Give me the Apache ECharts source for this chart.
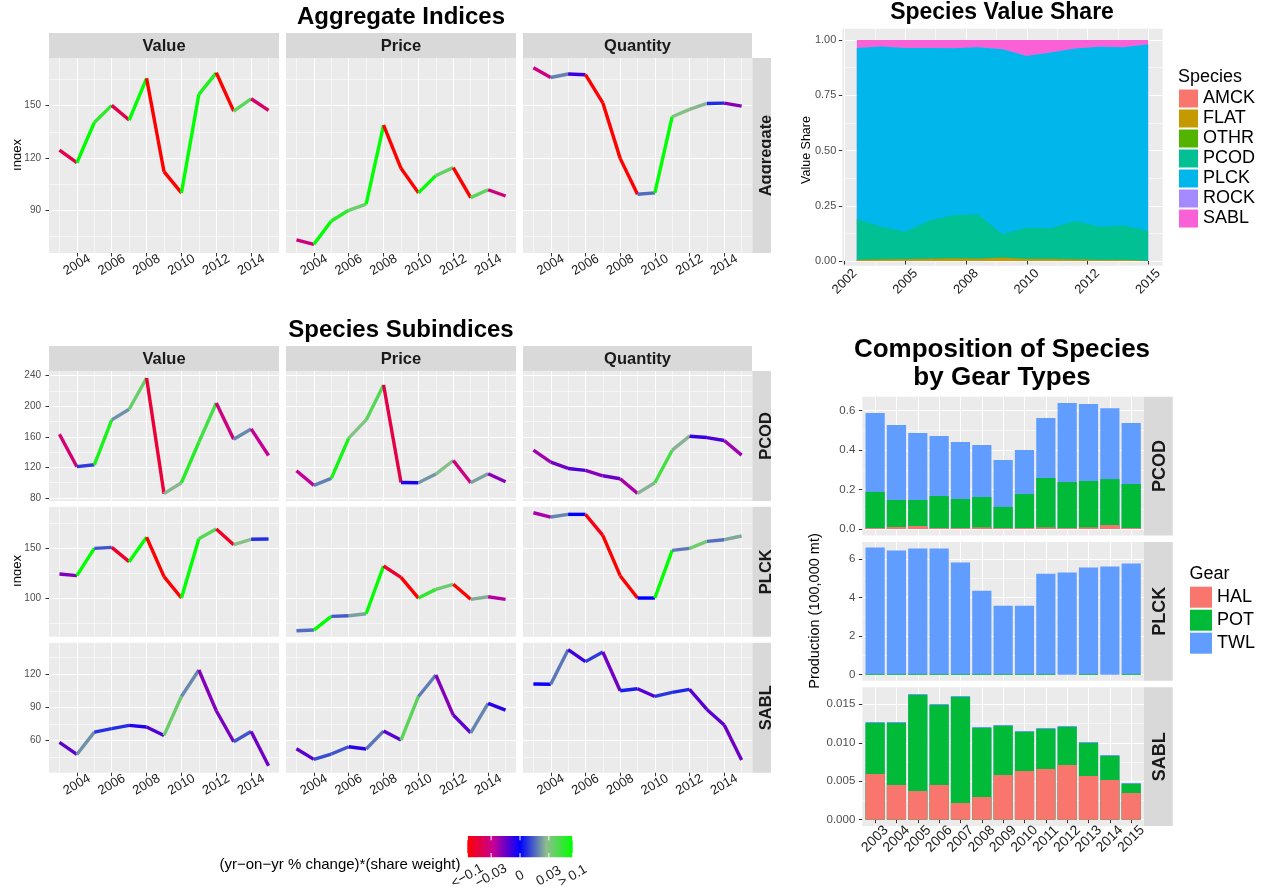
<!DOCTYPE html>
<html>
<head>
<meta charset="utf-8">
<script src="https://cdn.jsdelivr.net/npm/echarts@6/dist/echarts.min.js"></script>
<style>
  html, body { margin: 0; padding: 0; background: #fff; }
  #main { width: 1266px; height: 890px; }
</style>
</head>
<body>
<div id="main"></div>
<script>
  const FONT = '"Liberation Sans", Arial, Helvetica, sans-serif'

  const years = [2003, 2004, 2005, 2006, 2007, 2008, 2009, 2010, 2011, 2012, 2013, 2014, 2015]

  // aggregate indices
  const aggValue = [124.6, 117.3, 140.4, 150.2, 141.8, 165.7, 112.2, 100.0, 156.5, 168.9, 146.9, 154.0, 147.3]
  const aggPrice = [73.0, 70.5, 83.9, 90.0, 93.6, 138.9, 114.1, 100.0, 109.9, 114.5, 97.3, 101.8, 98.2]
  const aggQuantity = [171.8, 166.2, 168.2, 167.8, 151.7, 119.8, 99.2, 100.0, 143.7, 147.9, 151.3, 151.5, 149.8]

  // species subindices
  const pcodValue = [163.5, 121.0, 123.5, 182.2, 196.1, 237.0, 85.7, 100.0, 153.0, 204.3, 157.0, 170.4, 135.7]
  const pcodPrice = [115.7, 96.5, 105.7, 158.3, 182.2, 227.8, 100.4, 100.0, 111.3, 129.1, 100.0, 111.7, 101.3]
  const pcodQuantity = [142.6, 127.0, 118.7, 116.1, 109.1, 105.2, 86.1, 100.0, 142.6, 160.9, 159.1, 155.2, 136.1]
  const plckValue = [124.2, 122.5, 150.0, 151.0, 136.6, 161.1, 121.5, 100.0, 159.7, 169.5, 153.7, 159.1, 159.4]
  const plckPrice = [67.1, 67.8, 81.6, 82.2, 84.2, 132.2, 120.8, 100.0, 108.7, 113.8, 98.7, 101.3, 98.7]
  const plckQuantity = [185.8, 181.5, 184.2, 184.2, 163.1, 122.5, 100.0, 100.0, 148.0, 150.0, 157.0, 158.7, 162.4]
  const sablValue = [58.5, 47.6, 67.8, 70.9, 73.9, 72.4, 64.8, 100.0, 123.9, 87.1, 59.1, 68.4, 37.4]
  const sablPrice = [52.8, 43.1, 48.0, 54.6, 52.5, 68.7, 60.6, 100.0, 119.4, 83.2, 67.2, 93.8, 87.7]
  const sablQuantity = [111.3, 111.0, 142.3, 131.5, 140.2, 105.2, 107.0, 100.0, 103.7, 106.4, 88.3, 74.2, 42.5]

  // species value share
  const shareAMCK = [0.001, 0.001, 0.001, 0.001, 0.001, 0.001, 0.001, 0.001, 0.001, 0.001, 0.001, 0.001, 0.001]
  const shareFLAT = [0.004, 0.006, 0.007, 0.009, 0.011, 0.009, 0.014, 0.008, 0.008, 0.006, 0.004, 0.004, 0.003]
  const shareOTHR = [0.001, 0.001, 0.001, 0.001, 0.001, 0.001, 0.001, 0.001, 0.001, 0.001, 0.001, 0.001, 0.001]
  const sharePCOD = [0.184, 0.147, 0.124, 0.172, 0.195, 0.200, 0.105, 0.141, 0.139, 0.173, 0.149, 0.155, 0.131]
  const sharePLCK = [0.774, 0.815, 0.831, 0.781, 0.755, 0.756, 0.837, 0.777, 0.794, 0.780, 0.814, 0.806, 0.845]
  const shareROCK = [0.001, 0.001, 0.001, 0.001, 0.001, 0.001, 0.001, 0.001, 0.001, 0.001, 0.001, 0.001, 0.001]
  const shareSABL = [0.035, 0.029, 0.035, 0.035, 0.036, 0.032, 0.041, 0.071, 0.056, 0.038, 0.030, 0.032, 0.018]

  // production by gear (100,000 mt)
  const pcodHAL = [0.005, 0.010, 0.015, 0.005, 0.005, 0.008, 0.005, 0.005, 0.008, 0.005, 0.008, 0.020, 0.005]
  const pcodPOT = [0.183, 0.137, 0.132, 0.162, 0.147, 0.154, 0.107, 0.172, 0.251, 0.233, 0.235, 0.233, 0.223]
  const pcodTWL = [0.400, 0.380, 0.340, 0.305, 0.289, 0.264, 0.238, 0.224, 0.304, 0.401, 0.391, 0.360, 0.309]
  const plckHAL = [0, 0, 0, 0, 0, 0, 0, 0, 0, 0, 0, 0, 0]
  const plckPOT = [0.04, 0.04, 0.04, 0.04, 0.04, 0.04, 0.04, 0.04, 0.04, 0, 0.04, 0, 0.04]
  const plckTWL = [6.56, 6.40, 6.51, 6.51, 5.78, 4.32, 3.54, 3.54, 5.20, 5.30, 5.52, 5.61, 5.73]
  const sablHAL = [0.00594, 0.00451, 0.00373, 0.00451, 0.00217, 0.00295, 0.00581, 0.00633, 0.00659, 0.00711, 0.00568, 0.00516, 0.00347]
  const sablPOT = [0.00663, 0.00806, 0.01248, 0.01040, 0.01378, 0.00897, 0.00637, 0.00507, 0.00520, 0.00494, 0.00429, 0.00312, 0.00117]
  const sablTWL = [0.00013, 0.00013, 0.00013, 0.00013, 0.00013, 0.00013, 0.00013, 0.00013, 0.00013, 0.00013, 0.00013, 0.00013, 0.00013]

  // tick values / labels
  const lineXMajor = [2004, 2006, 2008, 2010, 2012, 2014]
  const lineXMinor = [2003, 2005, 2007, 2009, 2011, 2013, 2015]
  const rowMajor = [[90, 120, 150], [80, 120, 160, 200, 240], [100, 150], [60, 90, 120]]
  const rowMinor = [[75, 105, 135, 165], [100, 140, 180, 220], [75, 125, 175], [45, 75, 105, 135]]
  const shareXBreaks = [2002.5, 2005, 2007.5, 2010, 2012.5, 2015]
  const shareXLabels = ['2002', '2005', '2008', '2010', '2012', '2015']
  const shareXMinor = [2003.75, 2006.25, 2008.75, 2011.25, 2013.75]
  const shareYMajor = [0, 0.25, 0.5, 0.75, 1]
  const shareYMinor = [0.125, 0.375, 0.625, 0.875]
  const barYMajor = [[0, 0.2, 0.4, 0.6], [0, 2, 4, 6], [0, 0.005, 0.010, 0.015]]
  const barYMinor = [[0.1, 0.3, 0.5], [1, 3, 5], [0.0025, 0.0075, 0.0125]]
  const chgBreaks = [-0.1, -0.03, 0, 0.03, 0.1]
  const chgLabels = ['<\u22120.1', '\u22120.03', '0', '0.03', '> 0.1']

  const speciesNames = ['AMCK', 'FLAT', 'OTHR', 'PCOD', 'PLCK', 'ROCK', 'SABL']
  const speciesColors = ['#F8766D', '#C49A00', '#53B400', '#00C094', '#00B6EB', '#A58AFF', '#FB61D7']
  const gearNames = ['HAL', 'POT', 'TWL']
  const gearColors = ['#F8766D', '#00BA38', '#619CFF']

  // layout
  const colLeft = [49, 286, 523]
  const colWidth = [230, 230, 229]
  const rowTop = [58, 371, 506.7, 642.7]
  const rowHeight = [195, 130, 130, 130]
  const rowRange = [[65.5, 177.4], [76.1, 246.2], [61.1, 191.9], [31.1, 148.6]]
  const rowNames = ['Aggregate', 'PCOD', 'PLCK', 'SABL']
  const colNames = ['Value', 'Price', 'Quantity']
  const xRange = [2002.4, 2015.6]
  const barLeft = 862.3
  const barWidthPx = 281.7
  const barTop = [396.7, 542, 687.3]
  const barHeight = 138.7
  const barRange = [[-0.0325, 0.671], [-0.311, 6.882], [-0.00082, 0.01721]]

  const lineData = [
    [aggValue, aggPrice, aggQuantity],
    [pcodValue, pcodPrice, pcodQuantity],
    [plckValue, plckPrice, plckQuantity],
    [sablValue, sablPrice, sablQuantity]
  ]
  const rowWeights = [null, sharePCOD, sharePLCK, shareSABL]
  const shareData = [shareAMCK, shareFLAT, shareOTHR, sharePCOD, sharePLCK, shareROCK, shareSABL]
  const gearData = [[pcodHAL, pcodPOT, pcodTWL], [plckHAL, plckPOT, plckTWL], [sablHAL, sablPOT, sablTWL]]

  // colour scale: sqrt-transformed, clamped to +-0.1
  const chgStops = [[0, [255, 0, 0]], [0.25, [196, 0, 152]], [0.5, [0, 0, 255]], [0.75, [143, 188, 143]], [1, [0, 255, 0]]]
  function chgPos (v) {
    const c = Math.max(-0.1, Math.min(0.1, v))
    return (Math.sign(c) * Math.sqrt(Math.abs(c) / 0.1) + 1) / 2
  }
  function chgColor (v) {
    const p = chgPos(v)
    for (let i = 1; i < chgStops.length; i++) {
      if (p <= chgStops[i][0]) {
        const a = chgStops[i - 1]
        const b = chgStops[i]
        const t = (p - a[0]) / (b[0] - a[0])
        const c = a[1].map((x, k) => Math.round(x + (b[1][k] - x) * t))
        return 'rgb(' + c.join(',') + ')'
      }
    }
    return 'rgb(0,255,0)'
  }

  function segments (vals, w) {
    const out = []
    for (let i = 0; i < vals.length - 1; i++) {
      const chg = (vals[i + 1] / vals[i] - 1) * (w ? w[i + 1] : 1)
      out.push([years[i], vals[i], years[i + 1], vals[i + 1], chg])
    }
    return out
  }

  // running totals, bottom layer first
  function cumulate (layers) {
    const out = []
    layers.forEach(function (arr, i) {
      out.push(arr.map(function (v, k) { return v + (i ? out[i - 1][k] : 0) }))
    })
    return out
  }

  function renderSegment (params, api) {
    const a = api.coord([api.value(0), api.value(1)])
    const b = api.coord([api.value(2), api.value(3)])
    return {
      type: 'line',
      shape: { x1: a[0], y1: a[1], x2: b[0], y2: b[1] },
      style: { stroke: chgColor(api.value(4)), lineWidth: 3.4, lineCap: 'butt' }
    }
  }

  const grids = []
  const xAxes = []
  const yAxes = []
  const series = []
  const graphics = []

  // one panel = grid + major/minor x axes + major/minor y axes
  function addPanel (box, o) {
    const g = grids.length
    grids.push({ left: box[0], top: box[1], width: box[2], height: box[3], show: true, backgroundColor: '#EBEBEB', borderWidth: 0 })
    xAxes.push({
      type: 'value', gridIndex: g, min: o.xr[0], max: o.xr[1],
      axisLine: { show: false },
      axisTick: { show: o.xLab, customValues: o.xMajor, length: 3.5, lineStyle: { color: '#333', width: 1 } },
      axisLabel: {
        show: o.xLab, customValues: o.xMajor, rotate: o.xRot, align: 'center', verticalAlign: 'middle',
        margin: o.xMargin, fontSize: o.xSize, color: '#1A1A1A', fontFamily: FONT,
        formatter: o.xFmt || function (v) { return String(v) }
      },
      splitLine: { show: true, lineStyle: { color: '#fff', width: 1.1 } }
    })
    xAxes.push({
      type: 'value', gridIndex: g, min: o.xr[0], max: o.xr[1],
      axisLine: { show: false },
      axisTick: { show: false, customValues: o.xMinor.length ? o.xMinor : [o.xr[0]] },
      axisLabel: { show: false },
      splitLine: { show: o.xMinor.length > 0, lineStyle: { color: '#fff', width: 0.55 } }
    })
    yAxes.push({
      type: 'value', gridIndex: g, min: o.yr[0], max: o.yr[1],
      axisLine: { show: false },
      axisTick: { show: o.yLab, customValues: o.yMajor, length: 3.5, lineStyle: { color: '#333', width: 1 } },
      axisLabel: {
        show: o.yLab, customValues: o.yMajor, margin: o.yMargin, fontSize: o.ySize,
        color: '#4D4D4D', fontFamily: FONT, formatter: o.yFmt || function (v) { return String(v) }
      },
      splitLine: { show: true, lineStyle: { color: '#fff', width: 1.1 } }
    })
    yAxes.push({
      type: 'value', gridIndex: g, min: o.yr[0], max: o.yr[1], position: 'left',
      axisLine: { show: false },
      axisTick: { show: false, customValues: o.yMinor },
      axisLabel: { show: false },
      splitLine: { show: true, lineStyle: { color: '#fff', width: 0.55 } }
    })
    return { x: 2 * g, y: 2 * g }
  }

  function addText (text, x, y, font, fill, align, rotation) {
    graphics.push({
      type: 'text', x: x, y: y, silent: true, z: 100, rotation: rotation || 0,
      style: { text: text, font: font, fill: fill || '#000', align: align || 'center', verticalAlign: 'middle' }
    })
  }
  function addRect (x, y, w, h, fill, z) {
    graphics.push({ type: 'rect', silent: true, z: z || 90, shape: { x: x, y: y, width: w, height: h }, style: { fill: fill } })
  }

  // index panels
  for (let r = 0; r < 4; r++) {
    for (let c = 0; c < 3; c++) {
      const showX = r === 0 || r === 3
      const ax = addPanel([colLeft[c], rowTop[r], colWidth[c], rowHeight[r]], {
        xr: xRange, xMajor: lineXMajor, xMinor: lineXMinor, xLab: showX, xRot: 30, xMargin: 12, xSize: 13,
        yr: rowRange[r], yMajor: rowMajor[r], yMinor: rowMinor[r], yLab: c === 0, yMargin: 8, ySize: 10
      })
      series.push({
        type: 'custom', name: rowNames[r] + ' ' + colNames[c],
        xAxisIndex: ax.x, yAxisIndex: ax.y,
        renderItem: renderSegment,
        encode: { x: [0, 2], y: [1, 3] },
        data: segments(lineData[r][c], rowWeights[r])
      })
    }
    // right strip, clipped like the original
    addRect(752.3, rowTop[r], 18.7, rowHeight[r], '#D9D9D9')
    addText(rowNames[r], 766, rowTop[r] + rowHeight[r] / 2, 'bold 16.5px ' + FONT, '#1A1A1A', 'center', Math.PI / 2)
    addRect(771, rowTop[r], 14, rowHeight[r], '#fff', 120)
  }
  // top strips
  ;[33, 346].forEach(function (sy) {
    for (let c = 0; c < 3; c++) {
      addRect(colLeft[c], sy, colWidth[c], 25, '#D9D9D9')
      addText(colNames[c], colLeft[c] + colWidth[c] / 2, sy + 13, 'bold 16.5px ' + FONT, '#1A1A1A')
    }
  })

  // value share panel (layers drawn as running totals, top layer first)
  const shAx = addPanel([842.3, 28.7, 320.4, 237], {
    xr: xRange, xMajor: shareXBreaks, xMinor: shareXMinor, xLab: true, xRot: 45, xMargin: 16, xSize: 13,
    xFmt: function (v) { return shareXLabels[shareXBreaks.indexOf(v)] },
    yr: [-0.021, 1.051], yMajor: shareYMajor, yMinor: shareYMinor, yLab: true, yMargin: 6, ySize: 11,
    yFmt: function (v) { return v.toFixed(2) }
  })
  const shareCum = cumulate(shareData)
  for (let i = speciesNames.length - 1; i >= 0; i--) {
    series.push({
      type: 'line', name: speciesNames[i], xAxisIndex: shAx.x, yAxisIndex: shAx.y,
      symbol: 'none', smooth: false, color: speciesColors[i],
      lineStyle: { width: 0 }, areaStyle: { color: speciesColors[i], opacity: 1 },
      itemStyle: { color: speciesColors[i] },
      data: years.map(function (y, k) { return [y, shareCum[i][k]] })
    })
  }

  // gear composition panels
  const barNames = ['PCOD', 'PLCK', 'SABL']
  const barFmt = [function (v) { return v.toFixed(1) }, function (v) { return v.toFixed(0) }, function (v) { return v.toFixed(3) }]
  for (let b = 0; b < 3; b++) {
    const ax = addPanel([barLeft, barTop[b], barWidthPx, barHeight], {
      xr: xRange, xMajor: years, xMinor: [], xLab: b === 2, xRot: 45, xMargin: 13, xSize: 14,
      yr: barRange[b], yMajor: barYMajor[b], yMinor: barYMinor[b], yLab: true, yMargin: 7, ySize: 11.5,
      yFmt: barFmt[b]
    })
    const cum = cumulate(gearData[b])
    for (let i = gearNames.length - 1; i >= 0; i--) {
      series.push({
        type: 'bar', name: gearNames[i], xAxisIndex: ax.x, yAxisIndex: ax.y,
        barWidth: 19.2, barGap: '-100%', color: gearColors[i], itemStyle: { color: gearColors[i] },
        data: years.map(function (y, k) { return [y, cum[i][k]] })
      })
    }
    addRect(1144, barTop[b], 28.7, barHeight, '#D9D9D9')
    addText(barNames[b], 1160, barTop[b] + barHeight / 2, 'bold 18px ' + FONT, '#1A1A1A', 'center', Math.PI / 2)
  }

  // titles
  addText('Aggregate Indices', 401, 17, 'bold 24px ' + FONT)
  addText('Species Subindices', 401, 330, 'bold 24px ' + FONT)
  addText('Species Value Share', 1002, 13, 'bold 23px ' + FONT)
  addText('Composition of Species', 1002, 350, 'bold 26px ' + FONT)
  addText('by Gear Types', 1002, 378, 'bold 26px ' + FONT)

  // axis titles
  ;[155, 571].forEach(function (cy) {
    addText('Index', 17.5, cy, '13px ' + FONT, '#000', 'center', Math.PI / 2)
    addRect(0, cy - 25, 14, 50, '#fff', 120)
  })
  addText('Value Share', 806.5, 150, '12.5px ' + FONT, '#000', 'center', Math.PI / 2)
  addText('Production (100,000 mt)', 814.5, 611, '14.5px ' + FONT, '#000', 'center', Math.PI / 2)

  // legend titles
  addText('Species', 1178, 77, '18px ' + FONT, '#000', 'left')
  addText('Gear', 1189.5, 574, '18px ' + FONT, '#000', 'left')

  // colour bar legend
  const cbX = 467.3
  const cbY = 836
  const cbW = 105.4
  const cbH = 21.3
  graphics.push({
    type: 'rect', silent: true, z: 90,
    shape: { x: cbX, y: cbY, width: cbW, height: cbH },
    style: {
      fill: new echarts.graphic.LinearGradient(0, 0, 1, 0, chgStops.map(function (s) {
        return { offset: s[0], color: 'rgb(' + s[1].join(',') + ')' }
      }))
    }
  })
  chgBreaks.forEach(function (v, i) {
    const bx = cbX + chgPos(v) * cbW
    graphics.push({ type: 'line', silent: true, z: 95, shape: { x1: bx, y1: cbY, x2: bx, y2: cbY + 4.3 }, style: { stroke: '#fff', lineWidth: 1 } })
    graphics.push({ type: 'line', silent: true, z: 95, shape: { x1: bx, y1: cbY + cbH - 4.3, x2: bx, y2: cbY + cbH }, style: { stroke: '#fff', lineWidth: 1 } })
    addText(chgLabels[i], bx, 876, '13.5px ' + FONT, '#1A1A1A', 'center', Math.PI / 6)
  })
  addText('(yr\u2212on\u2212yr % change)*(share weight)', 340, 865, '15px ' + FONT)

  const chart = echarts.init(document.getElementById('main'))
  chart.setOption({
    animation: false,
    textStyle: { fontFamily: FONT },
    grid: grids,
    xAxis: xAxes,
    yAxis: yAxes,
    legend: [
      {
        data: speciesNames, orient: 'vertical', left: 1179, top: 89.5, padding: 0, icon: 'rect',
        itemWidth: 19, itemHeight: 18, itemGap: 2, selectedMode: false,
        textStyle: { fontSize: 18, lineHeight: 18, color: '#000', fontFamily: FONT }
      },
      {
        data: gearNames, orient: 'vertical', left: 1190, top: 586.7, padding: 0, icon: 'rect',
        itemWidth: 22, itemHeight: 21, itemGap: 2, selectedMode: false,
        textStyle: { fontSize: 18, lineHeight: 21, color: '#000', fontFamily: FONT }
      }
    ],
    series: series,
    graphic: graphics
  })
</script>
</body>
</html>
